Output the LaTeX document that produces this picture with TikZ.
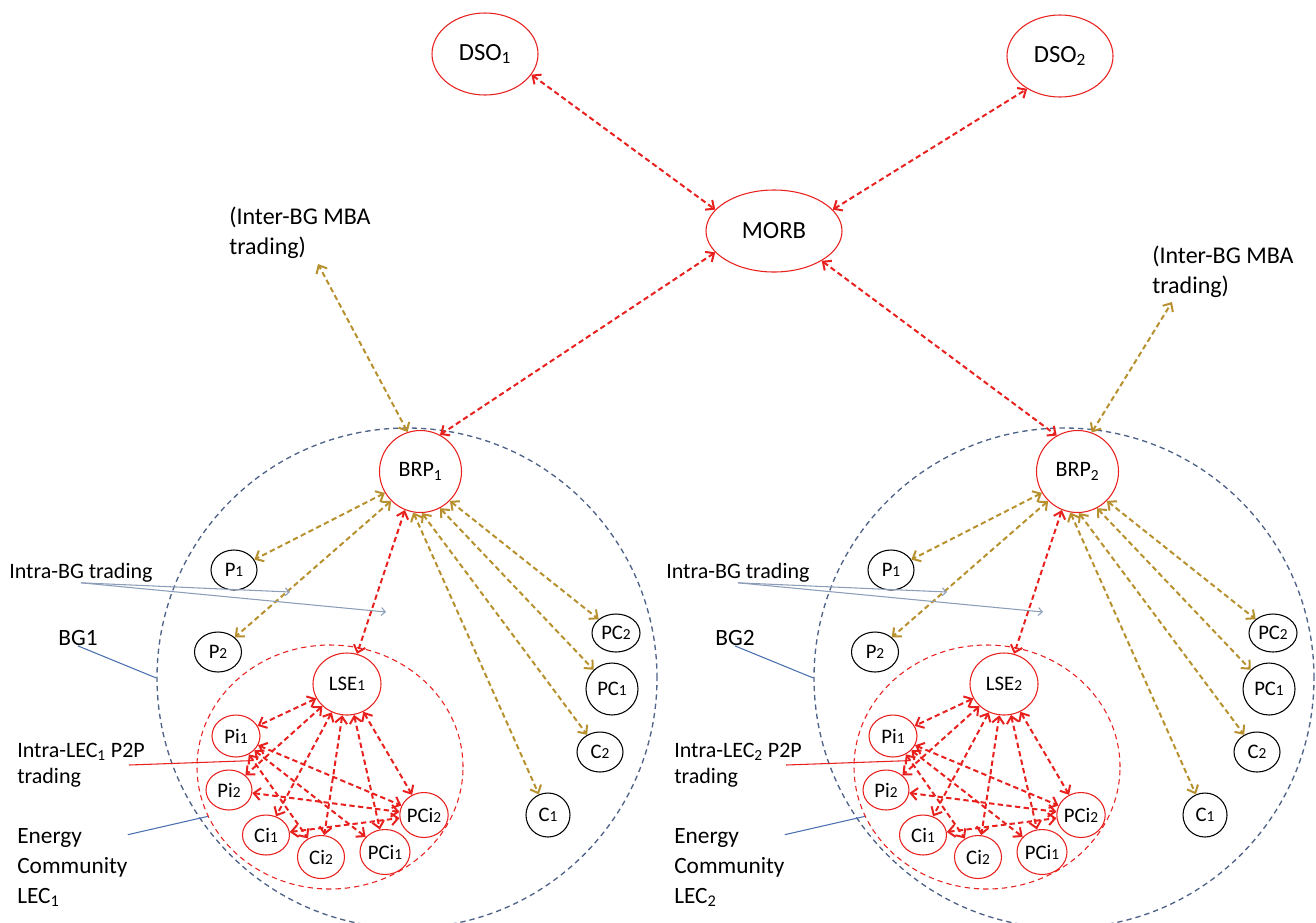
\documentclass[tikz,border=0pt]{standalone}
\usepackage{fontspec}
\setmainfont{Carlito}
\usetikzlibrary{arrows.meta,shapes.geometric}
\definecolor{lecred}{HTML}{E8201E}
\definecolor{brpgold}{HTML}{B8912F}
\definecolor{bgblue}{HTML}{4F6288}
\definecolor{tagblue}{HTML}{4A70B0}
\definecolor{tradegrey}{HTML}{8C9DB8}
\newcommand{\sm}[1]{{\fontsize{11.5}{11.5}\selectfont #1}}
\begin{document}
\begin{tikzpicture}[x=0.75pt,y=-0.75pt,>={Straight Barb[length=5pt,width=9pt]},
  every node/.style={font=\fontsize{15.5}{18}\selectfont},
  party/.style={ellipse,draw=black,line width=0.8pt,inner sep=0pt},
  member/.style={ellipse,draw=lecred,line width=0.8pt,inner sep=0pt},
  bgring/.style={circle,draw=bgblue,line width=1pt,dash pattern=on 4pt off 3pt,minimum size=375pt},
  lecring/.style={ellipse,draw=lecred,line width=0.8pt,dash pattern=on 4pt off 3pt,minimum width=199.5pt,minimum height=183pt},
  link/.style={<->,lecred,line width=1.5pt,dash pattern=on 4pt off 2.5pt},
  glink/.style={link,brpgold},
  tag/.style={align=left,inner sep=0pt,font=\fontsize{17.5}{22.5}\selectfont},
  tagline/.style={tagblue,line width=0.8pt}]
\useasboundingbox (0,0) rectangle (1316,922);
% market level
\node[member,minimum width=79.5pt,minimum height=61.5pt,font=\fontsize{18.5}{20}\selectfont] (dso1) at (485,54) {DSO\textsubscript{1}};
\node[member,minimum width=79.5pt,minimum height=61.5pt,font=\fontsize{18.5}{20}\selectfont] (dso2) at (1060,56) {DSO\textsubscript{2}};
\node[member,minimum width=102pt,minimum height=61.5pt,font=\fontsize{18.5}{20}\selectfont] (morb) at (774,231) {MORB};
\draw[link] (dso1.336) -- (morb.160);
\draw[link] (morb.20) -- (dso2.225);
% the two balance groups
\foreach \k/\dx in {1/0,2/657}{
\begin{scope}[shift={(\dx,0)}]
\node[bgring] (bg\k) at (407,678) {};
\node[lecring] (lec\k) at (330,767) {};
\node[member,circle,minimum size=61.5pt,font=\fontsize{16.5}{18}\selectfont] (brp\k) at (420.5,471.5) {BRP\textsubscript{\k}};
\node[party,minimum width=34.5pt,minimum height=30pt] (pa\k) at (234,570) {P\sm{1}};
\node[party,minimum width=35.25pt,minimum height=30pt] (pb\k) at (218,652) {P\sm{2}};
\node[party,minimum width=36pt,minimum height=28.5pt] (pcb\k) at (616,633) {PC\sm{2}};
\node[party,minimum width=39pt,minimum height=39pt] (pca\k) at (612,689) {PC\sm{1}};
\node[party,minimum width=34.5pt,minimum height=30pt] (cb\k) at (600,752) {C\sm{2}};
\node[party,minimum width=33pt,minimum height=33pt] (ca\k) at (548,815) {C\sm{1}};
\node[member,minimum width=51pt,minimum height=46.5pt] (lse\k) at (347,684) {LSE\sm{\k}};
\node[member,minimum width=36pt,minimum height=31.5pt] (pia\k) at (236,736) {Pi\sm{1}};
\node[member,minimum width=34.5pt,minimum height=30pt] (pib\k) at (229,790) {Pi\sm{2}};
\node[member,minimum width=35.25pt,minimum height=30pt] (cia\k) at (266,835) {Ci\sm{1}};
\node[member,minimum width=35.25pt,minimum height=32.25pt] (cib\k) at (321,857) {Ci\sm{2}};
\node[member,minimum width=37.5pt,minimum height=33.75pt] (pcia\k) at (385,852) {PCi\sm{1}};
\node[member,minimum width=36pt,minimum height=33.75pt] (pcib\k) at (424,815) {PCi\sm{2}};
% intra-BG trading
\draw[glink] (brp\k.211) -- (pa\k);
\draw[glink] (brp\k.225) -- (pb\k);
\draw[glink] (brp\k.260) -- (ca\k);
\draw[glink] (brp\k.272) -- (cb\k);
\draw[glink] (brp\k.298) -- (pca\k);
\draw[glink] (brp\k.315) -- (pcb\k);
\draw[link] (brp\k.248) -- (lse\k);
% P2P inside the community
\draw[link] (lse\k) -- (pia\k);
\draw[link] (lse\k) -- (pib\k);
\draw[link] (lse\k) -- (cia\k);
\draw[link] (lse\k) -- (cib\k);
\draw[link] (lse\k) -- (pcia\k);
\draw[link] (lse\k) -- (pcib\k);
\draw[link] (pia\k) -- (pcib\k);
\draw[link] (pia\k) -- (pcia\k);
\draw[link] (pia\k) -- (cib\k);
\draw[link] (pib\k) -- (pcib\k);
\draw[link] (cia\k) -- (pcib\k);
% labels
\node[tag,anchor=west,font=\fontsize{16.5}{20}\selectfont] (ibg\k) at (9,573) {Intra-BG trading};
\coordinate (ibga\k) at (290,592);
\coordinate (ibgb\k) at (386,612);
\draw[tradegrey,line width=0.8pt,-{Straight Barb[length=3pt,width=6pt]}] (ibg\k.south) -- (ibga\k);
\draw[tradegrey,line width=0.8pt,-{Straight Barb[length=3pt,width=6pt]}] (ibg\k.south) -- (ibgb\k);
\node[tag] (bgl\k) at (78,638) {BG\k};
\draw[tagline] (bgl\k.south) -- (bg\k.west);
\node[tag,anchor=west,font=\fontsize{16.5}{19.5}\selectfont] (ilec\k) at (17,765) {Intra-LEC\textsubscript{\k} P2P\\trading};
\draw[lecred,line width=0.8pt] ([xshift=-12pt]ilec\k.east) -- ([yshift=-7pt]pia\k.south east);
\node[tag,anchor=north west] (ecl\k) at (17,828) {Energy\\Community\\LEC\textsubscript{\k}};
\draw[tagline] ([yshift=-5pt]ecl\k.north east) -- (lec\k.202);
\end{scope}}
% links to the market operator
\draw[link] (morb.200) -- (brp1.62);
\draw[link] (morb.328) -- (brp2.120);
\node[tag,anchor=north west,font=\fontsize{18}{22.5}\selectfont] (mba1) at (229,207) {(Inter-BG MBA\\trading)};
\node[tag,anchor=north west,font=\fontsize{18}{22.5}\selectfont] (mba2) at (1152,246) {(Inter-BG MBA\\trading)};
\coordinate (mbatip1) at (318,264);
\coordinate (mbatip2) at (1172,302);
\draw[glink] (brp1.108) -- (mbatip1);
\draw[glink] (brp2.70) -- (mbatip2);
\end{tikzpicture}
\end{document}
